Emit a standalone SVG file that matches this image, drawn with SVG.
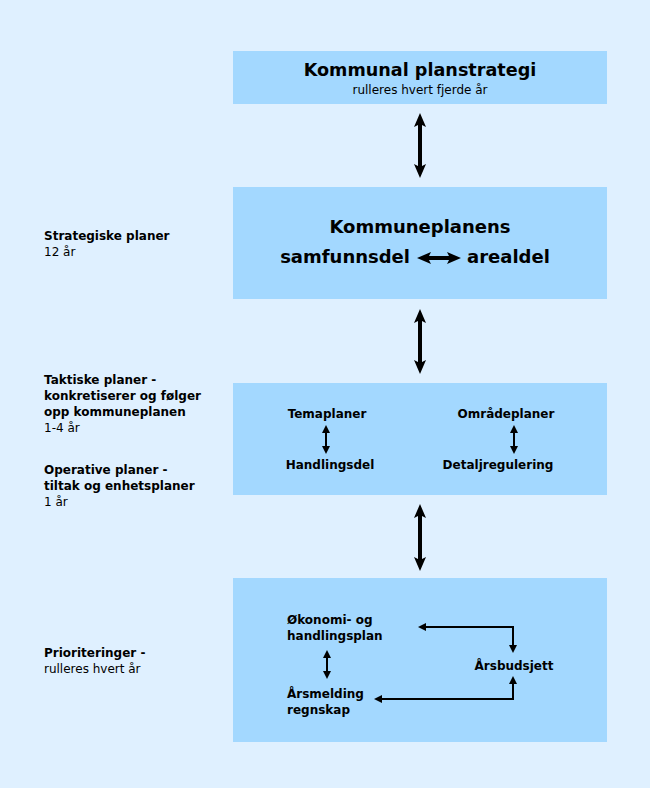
<svg xmlns="http://www.w3.org/2000/svg" width="650" height="788" viewBox="0 0 650 788">
<defs>
<style>
.bg{fill:#dff0ff}
.box{fill:#a3d8ff}
text{font-family:"DejaVu Sans",Verdana,sans-serif;fill:#000}
.b{font-weight:bold}
.t17{font-size:17.6px;font-weight:bold}
.t18{font-size:18px;font-weight:bold}
.s12{font-size:12px}
.lbl{font-size:12px}
.big{stroke:#000;stroke-width:4;fill:none}
.sm{stroke:#000;stroke-width:2;fill:none}
</style>
<marker id="hb" markerUnits="userSpaceOnUse" viewBox="0 0 14 12" refX="7" refY="6" markerWidth="14" markerHeight="12" orient="auto-start-reverse"><path d="M0,0 L14,6 L0,12 L3,6 Z" fill="#000"/></marker>
<marker id="hs" markerUnits="userSpaceOnUse" viewBox="0 0 8 8" refX="4" refY="4" markerWidth="8" markerHeight="8" orient="auto-start-reverse"><path d="M0,0 L8,4 L0,8 Z" fill="#000"/></marker>
</defs>
<rect class="bg" x="0" y="0" width="650" height="788"/>

<g id="left-labels">
<text class="lbl" x="44" y="240"><tspan class="b">Strategiske planer</tspan><tspan x="44" dy="16">12 år</tspan></text>
<text class="lbl" x="44" y="384"><tspan class="b">Taktiske planer -</tspan><tspan class="b" x="44" dy="16">konkretiserer og følger</tspan><tspan class="b" x="44" dy="16">opp kommuneplanen</tspan><tspan x="44" dy="16">1-4 år</tspan></text>
<text class="lbl" x="44" y="474"><tspan class="b">Operative planer -</tspan><tspan class="b" x="44" dy="16">tiltak og enhetsplaner</tspan><tspan x="44" dy="16">1 år</tspan></text>
<text class="lbl" x="44" y="657"><tspan class="b">Prioriteringer -</tspan><tspan x="44" dy="16">rulleres hvert år</tspan></text>
</g>

<g id="planstrategi">
<rect class="box" x="233" y="51" width="374" height="53"/>
<text class="t17" x="420" y="76" text-anchor="middle">Kommunal planstrategi</text>
<text class="s12" x="420" y="94" text-anchor="middle">rulleres hvert fjerde år</text>
</g>

<g id="kommuneplan">
<rect class="box" x="233" y="187" width="374" height="112"/>
<text class="t18" x="420" y="233" text-anchor="middle">Kommuneplanens</text>
<text class="t18" x="410" y="263" text-anchor="end">samfunnsdel</text>
<text class="t18" x="467" y="263">arealdel</text>
</g>

<g id="taktiske">
<rect class="box" x="233" y="383" width="374" height="112"/>
<text class="b s12" x="327" y="418" text-anchor="middle">Temaplaner</text>
<text class="b s12" x="330" y="469" text-anchor="middle">Handlingsdel</text>
<text class="b s12" x="506" y="418" text-anchor="middle">Områdeplaner</text>
<text class="b s12" x="498" y="469" text-anchor="middle">Detaljregulering</text>
</g>

<g id="prioriteringer">
<rect class="box" x="233" y="578" width="374" height="164"/>
<text class="b s12" x="287" y="624">Økonomi- og</text>
<text class="b s12" x="287" y="640">handlingsplan</text>
<text class="b s12" x="287" y="698">Årsmelding</text>
<text class="b s12" x="287" y="714">regnskap</text>
<text class="b s12" x="514" y="670" text-anchor="middle">Årsbudsjett</text>
</g>

<g id="connectors">
<line class="big" x1="420" y1="120" x2="420" y2="171" marker-start="url(#hb)" marker-end="url(#hb)"/>
<line class="big" x1="420" y1="316" x2="420" y2="367" marker-start="url(#hb)" marker-end="url(#hb)"/>
<line class="big" x1="420" y1="511" x2="420" y2="564" marker-start="url(#hb)" marker-end="url(#hb)"/>
<line class="big" x1="424" y1="258" x2="454" y2="258" marker-start="url(#hb)" marker-end="url(#hb)"/>
<line class="sm" x1="326" y1="429" x2="326" y2="450" marker-start="url(#hs)" marker-end="url(#hs)"/>
<line class="sm" x1="514" y1="429" x2="514" y2="450" marker-start="url(#hs)" marker-end="url(#hs)"/>
<line class="sm" x1="327" y1="654" x2="327" y2="675" marker-start="url(#hs)" marker-end="url(#hs)"/>
<polyline class="sm" points="422,627 513,627 513,649" marker-start="url(#hs)" marker-end="url(#hs)"/>
<polyline class="sm" points="513,680 513,699 378,699" marker-start="url(#hs)" marker-end="url(#hs)"/>
</g>
</svg>
